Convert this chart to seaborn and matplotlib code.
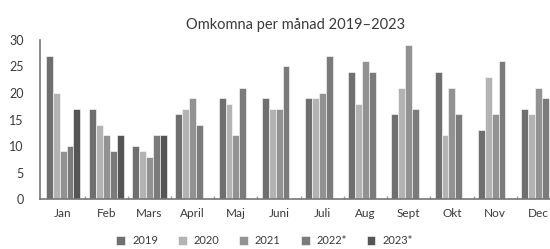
import matplotlib
matplotlib.use("Agg")
import matplotlib.pyplot as plt
import seaborn as sns
import pandas as pd
import numpy as np

months = ["Jan", "Feb", "Mars", "April", "Maj", "Juni", "Juli", "Aug", "Sept", "Okt", "Nov", "Dec"]
years = ["2019", "2020", "2021", "2022*", "2023*"]

v2019 = [27, 17, 10, 16, 19, 19, 19, 24, 16, 24, 13, 17]
v2020 = [20, 14, 9, 17, 18, 17, 19, 18, 21, 12, 23, 16]
v2021 = [9, 12, 8, 19, 12, 17, 20, 26, 29, 21, 16, 21]
v2022 = [10, 9, 12, 14, 21, 25, 27, 24, 17, 16, 26, 19]
v2023 = [17, 12, 12] + [np.nan] * 9

colors = ["#6f6f6f", "#b3b3b3", "#929292", "#7b7b7b", "#555555"]

df = pd.DataFrame({"month": months * 5,
                   "year": np.repeat(years, 12),
                   "value": v2019 + v2020 + v2021 + v2022 + v2023})

sns.set_theme(style="white")
plt.rcParams["font.family"] = ["Lato", "DejaVu Sans"]
text_c = "#3a3a3a"

fig = plt.figure(figsize=(5.5, 2.49), dpi=100)
ax = fig.add_axes([0.073, 0.2, 0.927, 0.64])

sns.barplot(data=df, x="month", y="value", hue="year", order=months, hue_order=years,
            palette=colors, width=0.8, edgecolor="white", linewidth=0.4, ax=ax)

ax.set_xlim(-0.53, 11.27)
ax.set_ylim(0, 30)
ax.set_yticks(range(0, 31, 5))
ax.set_xlabel("")
ax.set_ylabel("")
ax.set_xticks(np.arange(0.5, 11, 1), minor=True)
ax.tick_params(axis="x", which="major", length=0, labelsize=8.5, labelcolor=text_c, pad=6)
ax.tick_params(axis="x", which="minor", length=2, color="#999999", direction="in", bottom=True)
ax.tick_params(axis="y", length=0, labelsize=9, labelcolor=text_c, pad=12)
for s in ["top", "right"]:
    ax.spines[s].set_visible(False)
for s in ["left", "bottom"]:
    ax.spines[s].set_color("#777777")
    ax.spines[s].set_linewidth(1.2)

ax.set_title("Omkomna per månad 2019\u20132023", fontsize=10.5, color=text_c, pad=8)

ax.legend(loc="center", bbox_to_anchor=(0.44, -0.26), ncol=5, frameon=False,
          fontsize=8, handlelength=0.8, handleheight=0.8, columnspacing=1.8,
          handletextpad=0.6, labelcolor=text_c, borderaxespad=0, borderpad=0)

fig.savefig("out.png", dpi=100)
